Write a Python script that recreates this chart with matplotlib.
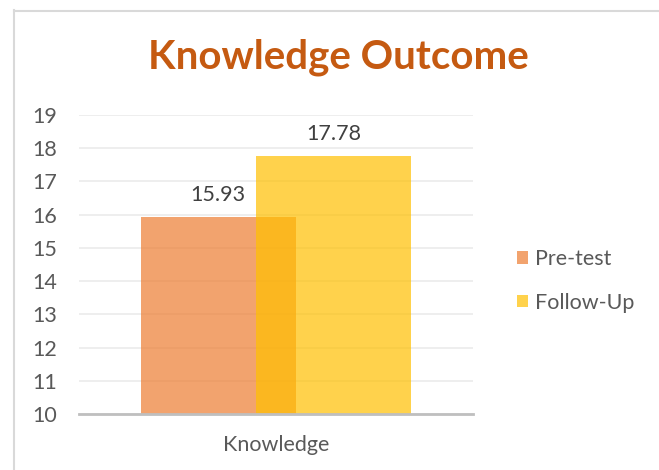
import matplotlib

matplotlib.use("Agg")
import matplotlib.pyplot as plt
from matplotlib.lines import Line2D
from matplotlib.patches import Patch

categories = ["Knowledge"]
series_names = ["Pre-test", "Follow-Up"]
pre_test = [15.93]
follow_up = [17.78]
y_ticks = [10, 11, 12, 13, 14, 15, 16, 17, 18, 19]

plt.rcParams["font.family"] = ["Lato", "DejaVu Sans"]
text_color = "#595959"

fig = plt.figure(figsize=(6.59, 4.70), dpi=100)
ax = fig.add_axes([79 / 659, 1 - 414 / 470, 394 / 659, 299 / 470])

width = 0.393
offset = 0.147
center = 0.5
ax.bar(center - offset, pre_test[0], width, bottom=0, color="#ED7D31", alpha=0.7, zorder=2)
ax.bar(center + offset, follow_up[0], width, bottom=0, color="#FFC000", alpha=0.7, zorder=3)

ax.text(center - offset, pre_test[0] + 0.35, f"{pre_test[0]:.2f}", ha="center", va="bottom",
        fontsize=15.5, color="#404040")
ax.text(center + offset, follow_up[0] + 0.35, f"{follow_up[0]:.2f}", ha="center", va="bottom",
        fontsize=15.5, color="#404040")

ax.set_xlim(0, 1)
ax.set_ylim(10, 19)
ax.set_yticks(y_ticks)
ax.set_xticks([center])
ax.set_xticklabels(categories)
ax.tick_params(axis="both", length=0, labelsize=15.5, labelcolor=text_color)
ax.tick_params(axis="y", pad=16)
ax.tick_params(axis="x", pad=15)
ax.grid(axis="y", color="#EBEBEB", linewidth=1.2, zorder=0)
ax.set_axisbelow(True)
for side in ["top", "right", "left"]:
    ax.spines[side].set_visible(False)
ax.spines["bottom"].set_color("#BFBFBF")
ax.spines["bottom"].set_linewidth(2)
ax.spines["bottom"].set_zorder(4)

fig.text(338 / 659, 1 - 57 / 470, "Knowledge Outcome", ha="center", va="center",
         fontsize=29, fontweight="bold", color="#C55A11")

handles = [Patch(facecolor="#ED7D31", alpha=0.7), Patch(facecolor="#FFC000", alpha=0.7)]
fig.legend(handles, series_names, loc="center left", bbox_to_anchor=(517 / 659, 1 - 281 / 470),
           frameon=False, fontsize=15.5, labelcolor=text_color, handlelength=0.5,
           handleheight=0.5, handletextpad=0.35, labelspacing=1.1, borderpad=0,
           borderaxespad=0)

fig.add_artist(Line2D([13.5 / 659, 13.5 / 659], [0, 1 - 10 / 470], color="#D9D9D9", linewidth=1.5))
fig.add_artist(Line2D([13.5 / 659, 1], [1 - 10.5 / 470, 1 - 10.5 / 470], color="#D9D9D9", linewidth=1.5))

fig.savefig("out.png", dpi=100)
